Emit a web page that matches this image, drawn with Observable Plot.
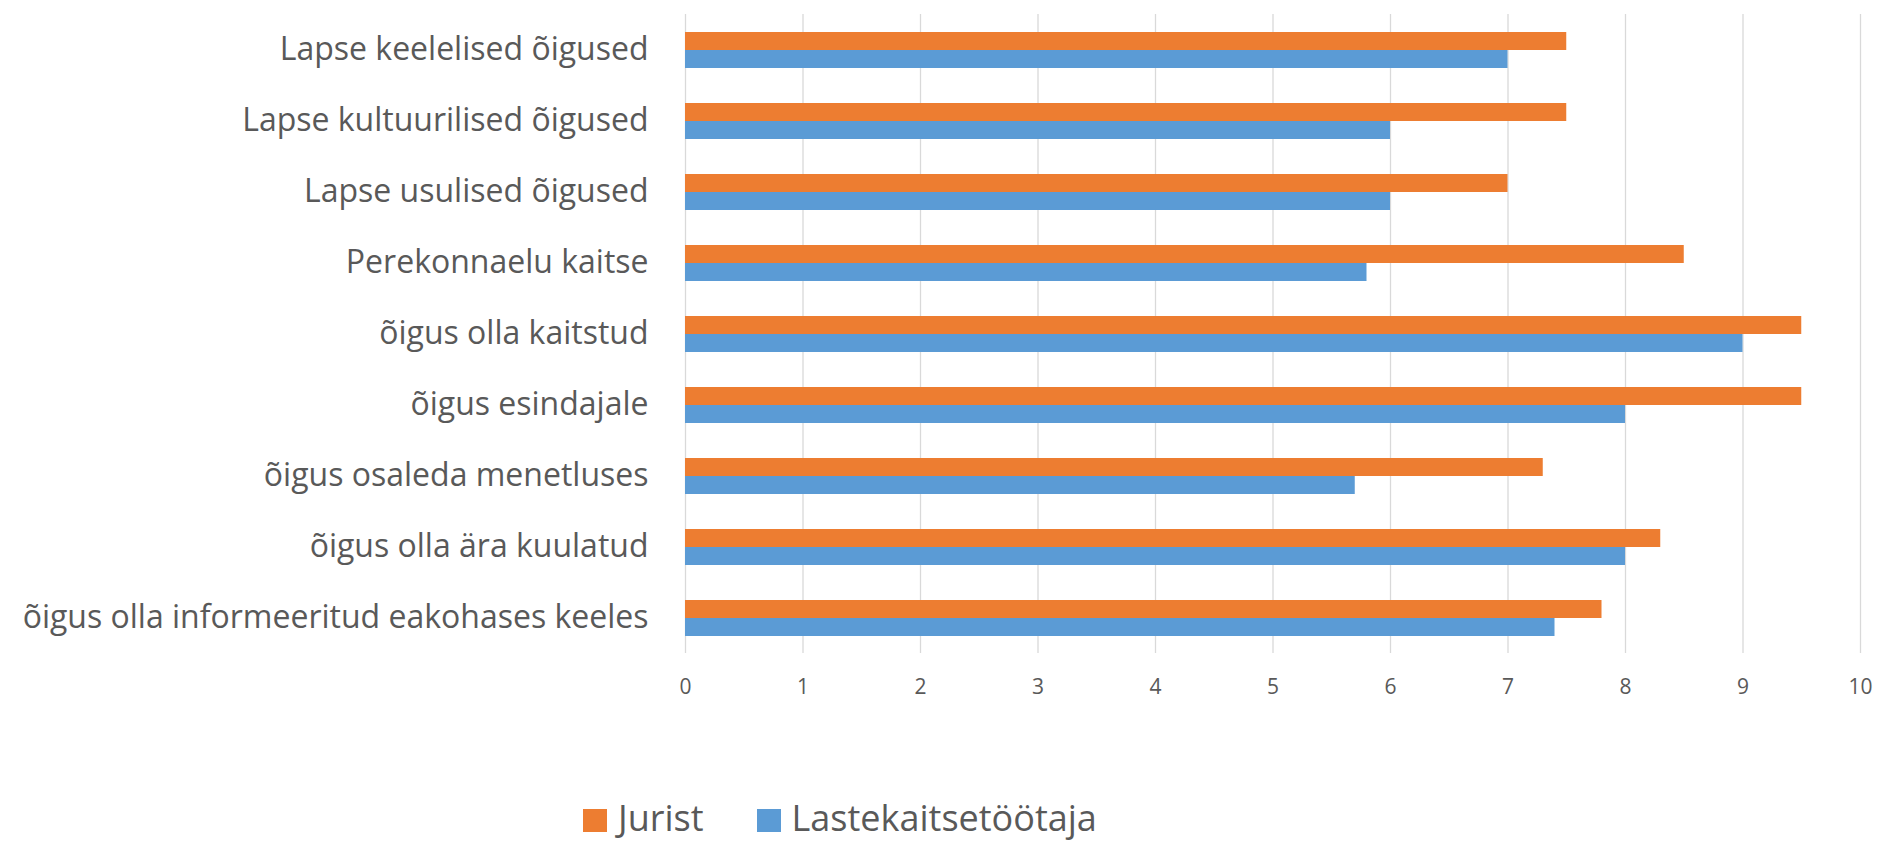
<!DOCTYPE html>
<html>
<head>
<meta charset="utf-8">
<script src="https://cdn.jsdelivr.net/npm/d3@7"></script>
<script src="https://cdn.jsdelivr.net/npm/@observablehq/plot@0.6"></script>
<style>
  body { margin: 0; background: white; font-family: "Open Sans", sans-serif; }
  #wrap { position: relative; width: 1877px; height: 843px; }
  #legend { position: absolute; left: 583px; top: 800px; display: flex; align-items: flex-start; color: #595959; font-size: 36px; line-height: 1; }
  .item { display: flex; align-items: flex-start; margin-right: 53px; }
  .sw { width: 24px; height: 23px; margin-top: 9px; margin-right: 11px; }
</style>
</head>
<body>
<div id="wrap">
  <div id="chart"></div>
  <div id="legend"></div>
</div>
<script>
const categories = [
  "Lapse keelelised õigused",
  "Lapse kultuurilised õigused",
  "Lapse usulised õigused",
  "Perekonnaelu kaitse",
  "õigus olla kaitstud",
  "õigus esindajale",
  "õigus osaleda menetluses",
  "õigus olla ära kuulatud",
  "õigus olla informeeritud eakohases keeles"
];
const series = ["Jurist", "Lastekaitsetöötaja"];
const jurist = [7.5, 7.5, 7, 8.5, 9.5, 9.5, 7.3, 8.3, 7.8];
const lastekaitsetootaja = [7, 6, 6, 5.8, 9, 8, 5.7, 8, 7.4];
const xTicks = [0, 1, 2, 3, 4, 5, 6, 7, 8, 9, 10];
const colors = ["#ED7D31", "#5B9BD5"];

const data = categories.flatMap((c, i) => [
  {category: c, series: series[0], value: jurist[i]},
  {category: c, series: series[1], value: lastekaitsetootaja[i]}
]);

const chart = Plot.plot({
  width: 1877,
  height: 720,
  marginLeft: 685,
  marginRight: 17,
  marginTop: 11,
  marginBottom: 64,
  style: {fontFamily: "Open Sans", color: "#595959", background: "white"},
  x: {domain: [0, 10], label: null},
  fy: {domain: categories, paddingInner: 0, paddingOuter: 0, label: null},
  y: {domain: series, paddingInner: 0, paddingOuter: 0.886, axis: null},
  color: {domain: series, range: colors},
  marks: [
    Plot.ruleX(xTicks, {stroke: "#d9d9d9", strokeWidth: 1.3}),
    Plot.barX(data, {x: "value", y: "series", fy: "category", fill: "series", insetTop: 0, insetBottom: 0}),
    Plot.axisX({ticks: xTicks, tickSize: 0, tickPadding: 26, fontSize: 21, label: null, fill: "#595959"}),
    Plot.axisFy({anchor: "left", tickSize: 0, tickPadding: 37, fontSize: 32, label: null, fill: "#595959"})
  ]
});
document.getElementById("chart").appendChild(chart);

const legend = document.getElementById("legend");
series.forEach((s, i) => {
  const item = document.createElement("div");
  item.className = "item";
  const sw = document.createElement("div");
  sw.className = "sw";
  sw.style.background = colors[i];
  const t = document.createElement("span");
  t.textContent = s;
  item.appendChild(sw);
  item.appendChild(t);
  legend.appendChild(item);
});
</script>
</body>
</html>
